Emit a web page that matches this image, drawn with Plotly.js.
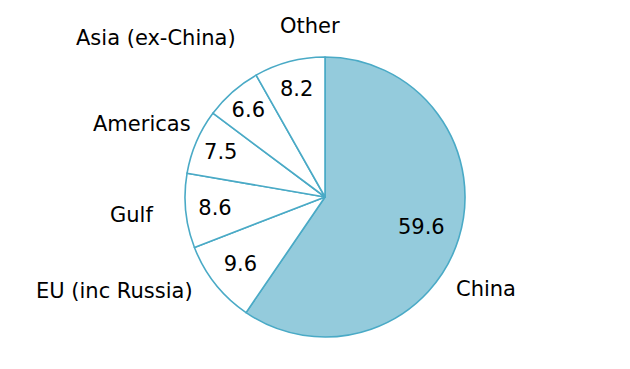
<!DOCTYPE html>
<html>
<head>
<meta charset="utf-8">
<script src="https://cdn.plot.ly/plotly-3.0.1.min.js"></script>
<style>html,body{margin:0;padding:0;background:#fff;}#chart{width:630px;height:369px;}</style>
</head>
<body>
<div id="chart"></div>
<script>
const regions = ["China", "EU (inc Russia)", "Gulf", "Americas", "Asia (ex-China)", "Other"];
const shares = [59.6, 9.6, 8.6, 7.5, 6.6, 8.2];
const sliceColors = ["#94cbdc", "#ffffff", "#ffffff", "#ffffff", "#ffffff", "#ffffff"];

// label placement (paper coords) for outside labels
const labelPos = {
  "China": [0.7714, 0.2168],
  "EU (inc Russia)": [0.1825, 0.2114],
  "Gulf": [0.208, 0.417],
  "Americas": [0.2254, 0.664],
  "Asia (ex-China)": [0.2476, 0.897],
  "Other": [0.492, 0.9295]
};

const font = {family: "DejaVu Sans, Verdana, sans-serif", size: 21, color: "#000"};
const dom = {x: [0.2937, 0.7381], y: [0.0867, 0.8455]};

const pieTrace = {
  type: "pie",
  labels: regions,
  values: shares,
  sort: false,
  direction: "clockwise",
  rotation: 0,
  marker: {colors: sliceColors, line: {color: "#4aaac6", width: 1.6}},
  textinfo: "none",
  domain: dom,
  showlegend: false
};

// transparent ring carrying the value labels (places them at ~3/4 radius)
const valueTrace = {
  type: "pie",
  labels: regions,
  values: shares,
  sort: false,
  direction: "clockwise",
  rotation: 0,
  hole: 0.44,
  marker: {colors: regions.map(() => "rgba(0,0,0,0)"), line: {width: 0}},
  textinfo: "value",
  texttemplate: "%{value}",
  textposition: "inside",
  insidetextorientation: "horizontal",
  insidetextfont: font,
  domain: dom,
  showlegend: false
};

const annotations = regions.map(r => ({
  text: r, x: labelPos[r][0], y: labelPos[r][1], xref: "paper", yref: "paper",
  xanchor: "center", yanchor: "middle", showarrow: false, font: font
}));

Plotly.newPlot("chart", [pieTrace, valueTrace], {
  width: 630, height: 369,
  margin: {l: 0, r: 0, t: 0, b: 0},
  paper_bgcolor: "#fff",
  showlegend: false,
  annotations: annotations
}, {displayModeBar: false, staticPlot: true});
</script>
</body>
</html>
